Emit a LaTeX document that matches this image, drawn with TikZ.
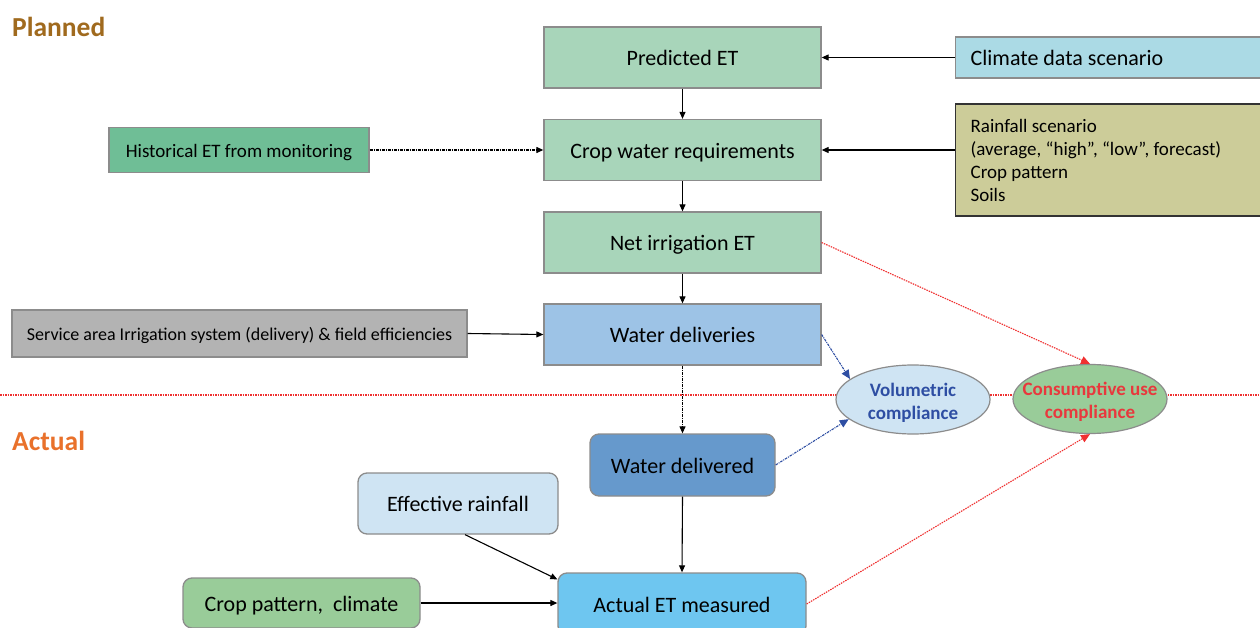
\documentclass[tikz,border=0pt]{standalone}
\usepackage{fontspec}
\setmainfont{Carlito}
\usetikzlibrary{shapes.geometric,arrows.meta}

\definecolor{boxgreen}{HTML}{A8D5BA}
\definecolor{histgreen}{HTML}{6FBE96}
\definecolor{climblue}{HTML}{ABDAE5}
\definecolor{khaki}{HTML}{CCCC99}
\definecolor{greybox}{HTML}{B3B3B3}
\definecolor{delblue}{HTML}{9DC3E6}
\definecolor{paleblue}{HTML}{CFE4F3}
\definecolor{midblue}{HTML}{6699CC}
\definecolor{skyblue}{HTML}{6EC6F0}
\definecolor{leafgreen}{HTML}{99CC99}
\definecolor{edgegrey}{HTML}{8C8C8C}
\definecolor{volblue}{HTML}{2E4EA3}
\definecolor{conred}{HTML}{E8383D}
\definecolor{dotred}{HTML}{F03030}
\definecolor{plannedbrown}{HTML}{A06A1E}
\definecolor{actualorange}{HTML}{E9712B}

\tikzset{
  big/.style={font=\fontsize{22}{26}\selectfont, text height=16.5pt, text depth=0pt},
  small/.style={font=\fontsize{19}{23}\selectfont},
  flowbox/.style={draw=edgegrey, line width=1.3pt, inner sep=0pt, big,
                  minimum width=277pt, minimum height=61pt},
  roundbox/.style={flowbox, rounded corners=9pt},
  compliance/.style={ellipse, draw=edgegrey, line width=1.2pt, inner sep=0pt,
                     minimum width=154pt, minimum height=69pt},
  compliancetext/.style={inner sep=0pt, align=center, text height=39pt, text depth=0pt,
                         font=\fontsize{19}{22.6}\selectfont\bfseries},
  tip/.style={-{Triangle[length=7pt,width=6pt]}},
  bigtip/.style={-{Triangle[length=9pt,width=8pt]}},
  solidarrow/.style={tip, line width=1.1pt, black},
  dashdotarrow/.style={tip, line width=1.1pt, black,
                       dash pattern=on 3pt off 1pt on 1pt off 1pt},
  redarrow/.style={bigtip, line width=1.1pt, dotred, dash pattern=on 1.5pt off 1pt},
  bluearrow/.style={bigtip, line width=1.1pt, volblue, dash pattern=on 2.5pt off 1pt on 1pt off 1pt},
  heading/.style={anchor=base west, inner sep=0pt, font=\fontsize{27.5}{32}\selectfont\bfseries}
}

\begin{document}
\begin{tikzpicture}[x=1pt, y=-1pt]
  \useasboundingbox (0,0) rectangle (1260,628);
  \clip (0,0) rectangle (1260,628);
  \fill[white] (0,0) rectangle (1260,628);

  % section headings
  \node[heading, text=plannedbrown] (planned) at (12,37) {Planned};
  \node[heading, text=actualorange] (actual) at (12,450) {Actual};

  % divider between planned and actual
  \coordinate (divL) at (0,395);
  \coordinate (divR) at (1260,395);
  \draw[dotred, line width=1.3pt, dash pattern=on 1.5pt off 1pt] (divL) -- (divR);

  % planned chain
  \node[flowbox, fill=boxgreen] (pet) at (682.5,57.5) {Predicted ET};
  \node[flowbox, fill=boxgreen] (cwr) at (682.5,150) {Crop water requirements};
  \node[flowbox, fill=boxgreen] (net) at (682.5,242.5) {Net irrigation ET};
  \node[flowbox, fill=delblue] (wdel) at (682.5,334.5) {Water deliveries};

  % planned inputs
  \node[draw=edgegrey, line width=1.3pt, fill=climblue, big, anchor=west,
        text width=300pt, align=flush left, inner xsep=15pt, inner ysep=0pt,
        minimum height=41pt] (clim) at (955,57.5) {Climate data scenario};
  \node[draw=black!80, line width=1.3pt, fill=khaki, small, anchor=west,
        text width=300pt, align=flush left, inner xsep=15pt, inner ysep=0pt,
        minimum height=112pt] (rain) at (955,160)
        {Rainfall scenario\\(average, “high”, “low”, forecast)\\Crop pattern\\Soils};
  \node[draw=edgegrey, line width=1.3pt, fill=histgreen, small, inner sep=0pt,
        text height=14.6pt, text depth=0pt,
        minimum width=260pt, minimum height=45pt] (hist) at (239,150)
        {Historical ET from monitoring};
  \node[draw=edgegrey, line width=1.3pt, fill=greybox, inner sep=0pt,
        font=\fontsize{18}{22}\selectfont, text height=14pt, text depth=0pt,
        minimum width=455pt, minimum height=47pt] (serv) at (239.5,333.5)
        {Service area Irrigation system (delivery) \& field efficiencies};

  % compliance checks
  \node[compliance, fill=paleblue] (vol) at (913,399.5) {};
  \node[compliancetext, text=volblue] (voltext) at (vol.center)
        {Volumetric\\compliance};
  \node[compliance, fill=leafgreen] (cons) at (1090,399) {};
  \node[compliancetext, text=conred] (constext) at (cons.center)
        {Consumptive use\\compliance};

  % actual chain
  \node[roundbox, fill=midblue, minimum width=185pt, minimum height=62pt]
        (wdld) at (682.5,465) {Water delivered};
  \node[roundbox, fill=paleblue, minimum width=200pt, minimum height=61pt]
        (eff) at (458,503.5) {Effective rainfall};
  \node[roundbox, fill=skyblue, minimum width=248pt, minimum height=62pt]
        (act) at (682,604) {Actual ET measured};
  \node[roundbox, fill=leafgreen, minimum width=237pt, minimum height=50pt]
        (crop) at (301.5,603) {Crop pattern,\ \ climate};

  % planned connectors
  \draw[solidarrow] (clim.west) -- (pet.east);
  \draw[solidarrow] (rain.west |- cwr.east) -- (cwr.east);
  \draw[dashdotarrow] (hist.east) -- (cwr.west);
  \draw[solidarrow] (pet.south) -- (cwr.north);
  \draw[solidarrow] (cwr.south) -- (net.north);
  \draw[solidarrow] (net.south) -- (wdel.north);
  \draw[solidarrow] (serv.east) -- (wdel.west);

  % into the actual side
  \draw[dashdotarrow] (wdel.south) -- (wdld.north);
  \draw[solidarrow] (wdld.south) -- (act.north);
  \draw[solidarrow] ([xshift=7pt]eff.south) -- ([yshift=-7pt]act.north west);
  \draw[solidarrow] (crop.east) -- (crop.east -| act.west);

  % compliance connectors
  \draw[bluearrow] (wdel.east) -- (vol.162);
  \draw[bluearrow] (wdld.east) -- (vol.197);
  \draw[redarrow] (net.east) -- (cons.north);
  \draw[redarrow] (act.east) -- (cons.south);
\end{tikzpicture}
\end{document}
